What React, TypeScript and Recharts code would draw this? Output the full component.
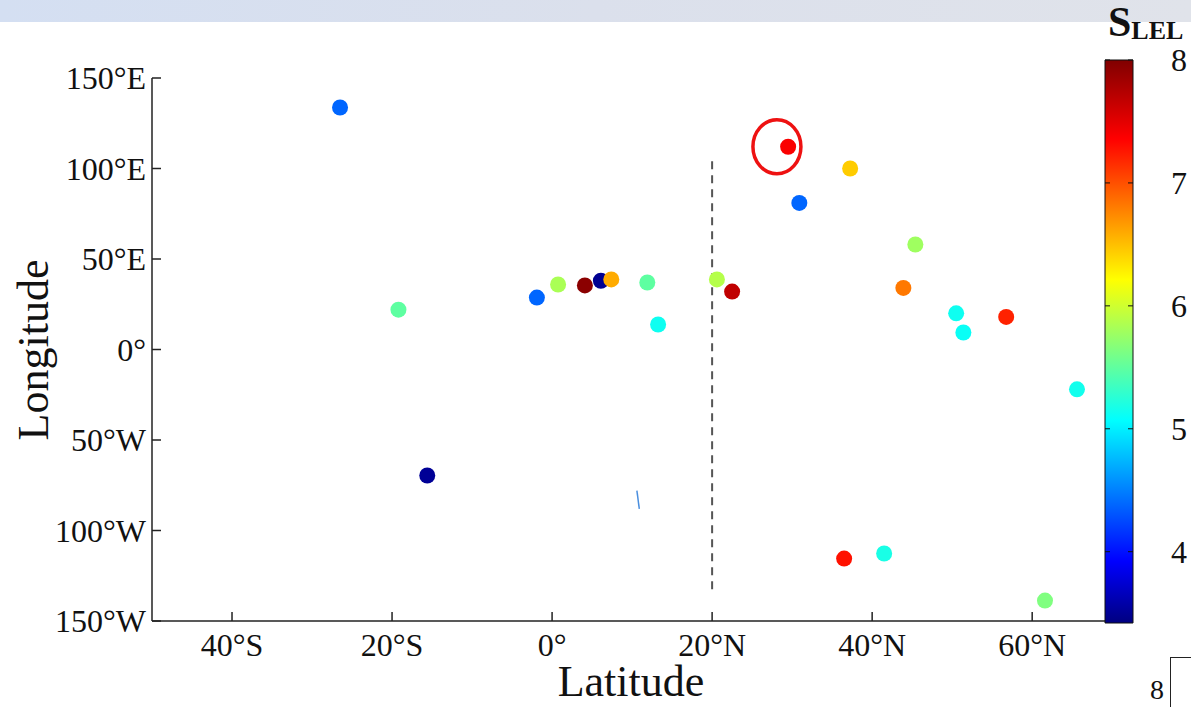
import {
  Bar,
  BarChart,
  Cell,
  ReferenceDot,
  ReferenceLine,
  Scatter,
  ScatterChart,
  XAxis,
  YAxis,
  ZAxis
} from 'recharts'

// site positions (latitude, longitude) and the S_LEL value of each
const latitudes = [
  -26.5, -19.2, -15.6, -1.9, 0.75, 4.1, 6.1, 7.4, 11.9, 13.25, 20.6, 22.5, 29.5, 30.9, 37.25,
  45.4, 43.9, 50.5, 51.4, 56.75, 65.6, 36.5, 41.5, 61.6
]
const longitudes = [
  133.7, 22, -69.6, 28.7, 35.9, 35.4, 38, 38.7, 37, 13.8, 38.7, 32, 112, 81, 100, 58, 34, 20,
  9.4, 18, -22, -115.5, -112.7, -138.7
]
const sValues = [
  4.45, 5.56, 3.52, 4.45, 5.9, 7.95, 3.5, 6.66, 5.56, 5.2, 5.95, 7.71, 7.45, 4.45, 6.51, 5.85,
  6.89, 5.2, 5.18, 7.28, 5.22, 7.35, 5.25, 5.71
]

const latTicks = [-40, -20, 0, 20, 40, 60]
const lonTicks = [-150, -100, -50, 0, 50, 100, 150]
const colorTicks = [4, 5, 6, 7, 8]
const colorRange: [number, number] = [3.42, 8]

// dashed separator at 20°N, circled site, and the stray stroke
const dividerLat = 20
const dividerLon = [104, -135]
const circled = { lat: 28.1, lon: 112 }
const strokeMark = [
  { lat: 10.6, lon: -78 },
  { lat: 10.9, lon: -88 }
]

const W = 1191
const H = 707
const PLOT_LEFT = 152
const PLOT_RIGHT = 1117
const PLOT_TOP = 78
const PLOT_BOTTOM = 621
const SERIF = '"Liberation Serif", "Times New Roman", serif'

const points = latitudes.map((lat, i) => ({ lat, lon: longitudes[i], s: sValues[i] }))

const clamp = (v: number) => Math.max(0, Math.min(1, v))
function jet(s: number) {
  const t = (s - colorRange[0]) / (colorRange[1] - colorRange[0])
  const r = clamp(1.5 - Math.abs(4 * t - 3))
  const g = clamp(1.5 - Math.abs(4 * t - 2))
  const b = clamp(1.5 - Math.abs(4 * t - 1))
  const h = (v: number) => Math.round(v * 255).toString(16).padStart(2, '0')
  return `#${h(r)}${h(g)}${h(b)}`
}

const fmtLat = (v: number) => (v === 0 ? '0°' : v < 0 ? `${-v}°S` : `${v}°N`)
const fmtLon = (v: number) => (v === 0 ? '0°' : v < 0 ? `${-v}°W` : `${v}°E`)

const LatTick = ({ x, payload }: any) => (
  <g>
    <line x1={x} x2={x} y1={PLOT_BOTTOM} y2={PLOT_BOTTOM - 9} stroke="#222" strokeWidth={1.5} />
    <text x={x} y={PLOT_BOTTOM + 35} textAnchor="middle" fontSize={32} fontFamily={SERIF} fill="#111">
      {fmtLat(payload.value)}
    </text>
  </g>
)

const LonTick = ({ y, payload }: any) => (
  <g>
    <line x1={PLOT_LEFT} x2={PLOT_LEFT + 9} y1={y} y2={y} stroke="#222" strokeWidth={1.5} />
    <text x={PLOT_LEFT - 6} y={y + 11} textAnchor="end" fontSize={32} fontFamily={SERIF} fill="#111">
      {fmtLon(payload.value)}
    </text>
  </g>
)

const ColorTick = ({ y, payload }: any) => (
  <g>
    <line x1={1105} x2={1110} y1={y} y2={y} stroke="#111" />
    <line x1={1128} x2={1133} y1={y} y2={y} stroke="#111" />
    <text x={1171} y={y + 11} fontSize={32} fontFamily={SERIF} fill="#111">
      {payload.value}
    </text>
  </g>
)

const Dot = ({ cx, cy, fill }: any) => <circle cx={cx} cy={cy} r={8} fill={fill} />

const Ring = ({ cx, cy }: any) => (
  <ellipse cx={cx} cy={cy} rx={24} ry={27} fill="none" stroke="#ee1111" strokeWidth={3.5} />
)

export default function App() {
  return (
    <div
      style={{
        position: 'absolute',
        left: 0,
        top: 0,
        width: W,
        height: H,
        background: '#fff',
        overflow: 'hidden',
        fontFamily: SERIF
      }}>
      <div
        style={{
          position: 'absolute',
          left: 0,
          top: 0,
          width: W,
          height: 22,
          background: 'linear-gradient(to right, #d4dff2, #dbe0ec 50%, #e0e3ea)'
        }}
      />

      <div style={{ position: 'absolute', left: 0, top: 0 }}>
        <ScatterChart
          width={W}
          height={H}
          margin={{ top: PLOT_TOP, right: W - PLOT_RIGHT, bottom: H - PLOT_BOTTOM - 50, left: PLOT_LEFT - 100 }}>
          <XAxis
            type="number"
            dataKey="lat"
            domain={[-50, 70.6]}
            ticks={latTicks}
            height={50}
            tick={<LatTick />}
            tickLine={false}
            axisLine={{ stroke: '#222', strokeWidth: 1.5 }}
          />
          <YAxis
            type="number"
            dataKey="lon"
            domain={[-150, 150]}
            ticks={lonTicks}
            width={100}
            tick={<LonTick />}
            tickLine={false}
            axisLine={{ stroke: '#222', strokeWidth: 1.5 }}
          />
          <ZAxis range={[200, 200]} />
          <ReferenceLine
            segment={[
              { x: dividerLat, y: dividerLon[0] },
              { x: dividerLat, y: dividerLon[1] }
            ]}
            stroke="#555"
            strokeWidth={2}
            strokeDasharray="8 6"
          />
          <ReferenceLine
            segment={[
              { x: strokeMark[0].lat, y: strokeMark[0].lon },
              { x: strokeMark[1].lat, y: strokeMark[1].lon }
            ]}
            stroke="#4a8fdf"
            strokeWidth={1.5}
          />
          <Scatter data={points} shape={<Dot />} isAnimationActive={false}>
            {points.map((p, i) => (
              <Cell key={i} fill={jet(p.s)} />
            ))}
          </Scatter>
          <ReferenceDot x={circled.lat} y={circled.lon} shape={<Ring />} />
        </ScatterChart>
      </div>

      <div style={{ position: 'absolute', left: 0, top: 0 }}>
        <BarChart
          width={W}
          height={H}
          data={[{ name: 'S', range: colorRange }]}
          barCategoryGap={0}
          margin={{ top: 60, right: 0, bottom: H - 623, left: 1105 }}>
          <defs>
            <linearGradient id="jet" x1="0" y1="1" x2="0" y2="0">
              <stop offset="0" stopColor="#000080" />
              <stop offset="0.11" stopColor="#0000ff" />
              <stop offset="0.36" stopColor="#00ffff" />
              <stop offset="0.61" stopColor="#ffff00" />
              <stop offset="0.86" stopColor="#ff0000" />
              <stop offset="1" stopColor="#800000" />
            </linearGradient>
          </defs>
          <XAxis dataKey="name" hide height={0} />
          <YAxis
            orientation="right"
            type="number"
            domain={colorRange}
            ticks={colorTicks}
            width={58}
            tick={<ColorTick />}
            tickLine={false}
            axisLine={false}
          />
          <Bar dataKey="range" fill="url(#jet)" stroke="#111" strokeWidth={1} isAnimationActive={false} />
        </BarChart>
      </div>

      <div
        style={{
          position: 'absolute',
          left: 0,
          top: 350,
          width: 66,
          transform: 'translate(0, -50%) rotate(-90deg)',
          transformOrigin: 'center',
          display: 'flex',
          justifyContent: 'center'
        }}>
        <span style={{ fontSize: 44, whiteSpace: 'nowrap', color: '#111' }}>Longitude</span>
      </div>
      <div
        style={{
          position: 'absolute',
          left: 531,
          top: 660,
          width: 200,
          textAlign: 'center',
          fontSize: 44,
          lineHeight: '44px',
          color: '#111'
        }}>
        Latitude
      </div>

      <div
        style={{
          position: 'absolute',
          left: 1108,
          top: 1,
          height: 44,
          fontWeight: 'bold',
          color: '#111',
          whiteSpace: 'nowrap',
          lineHeight: '42px'
        }}>
        <span style={{ fontSize: 42 }}>S</span>
        <span style={{ fontSize: 26, position: 'relative', top: 3 }}>LEL</span>
      </div>

      <div
        style={{
          position: 'absolute',
          left: 1170,
          top: 657,
          width: 40,
          height: 60,
          borderLeft: '1.5px solid #222',
          borderTop: '1.5px solid #222'
        }}
      />
      <div style={{ position: 'absolute', left: 1150, top: 676, fontSize: 28, lineHeight: '28px', color: '#111' }}>
        8
      </div>
    </div>
  )
}
